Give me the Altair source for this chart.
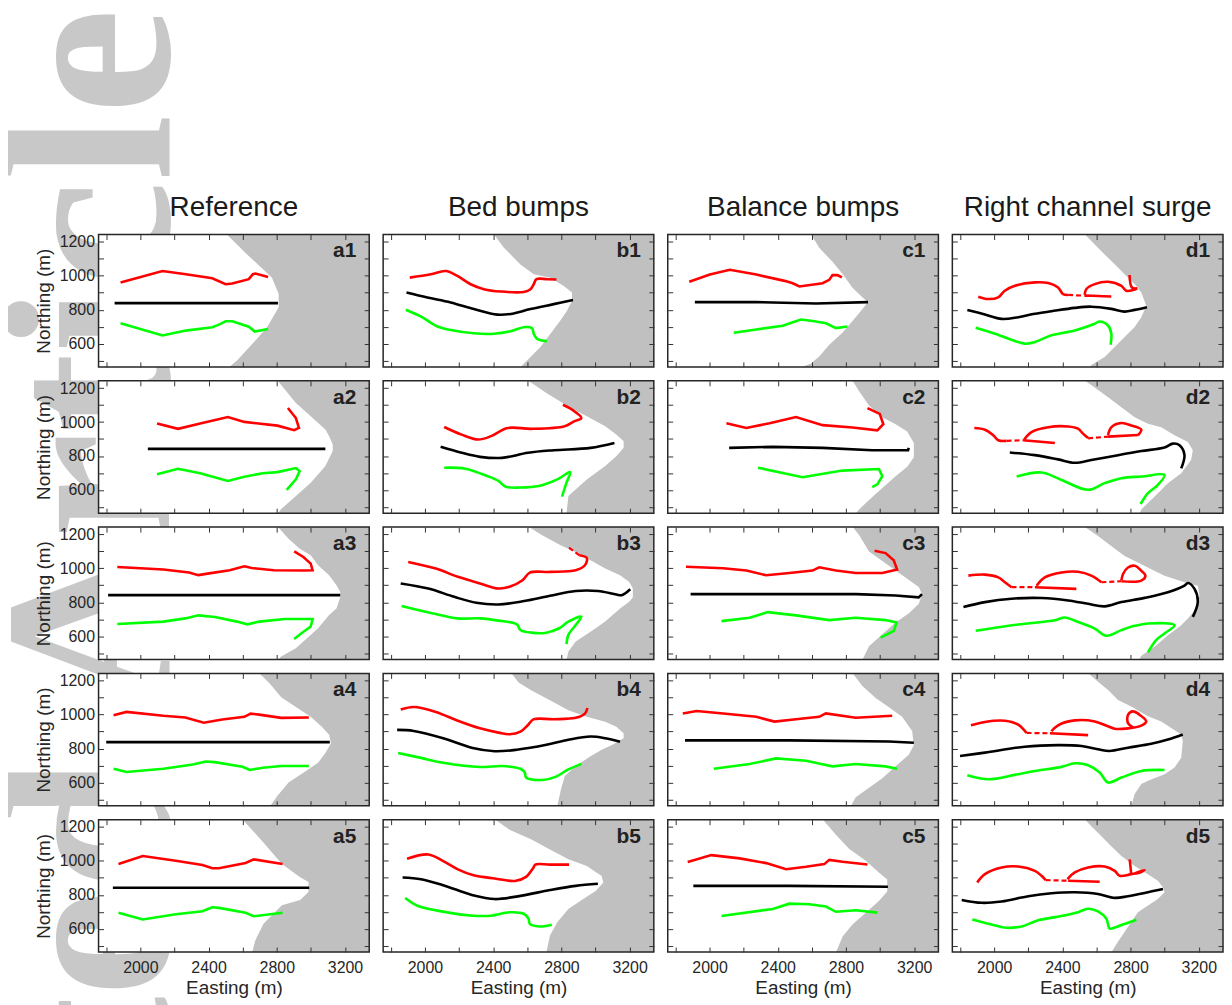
import altair as alt
import pandas as pd

# ---------------- axes / labels ----------------
X_MIN, X_MAX = 1755, 3342
Y_MIN, Y_MAX = 463, 1243
X_TICK_VALUES = [1800, 2000, 2200, 2400, 2600, 2800, 3000, 3200]
X_LABEL_VALUES = [2000, 2400, 2800, 3200]
Y_TICK_VALUES = [500, 600, 700, 800, 900, 1000, 1100, 1200]
Y_LABEL_VALUES = [600, 800, 1000, 1200]
COLUMN_TITLES = ["Reference", "Bed bumps", "Balance bumps", "Right channel surge"]
COLUMN_LETTERS = ["a", "b", "c", "d"]
WATERMARK = "ted Article"

# ---------------- panel data (Easting, Northing) ----------------
A1 = dict(
    front=[(2506, 1245), (2626, 1126), (2772, 989), (2811, 892), (2811, 814), (2743, 697), (2675, 619), (2568, 502), (2519, 460)],
    red=[[(1884, 960), (2130, 1028), (2267, 1009), (2422, 985), (2500, 950), (2539, 954), (2636, 980), (2660, 1009), (2675, 1013), (2749, 993)]],
    black=[[(1849, 839), (2807, 839)]],
    green=[[(1884, 720), (2130, 648), (2267, 677), (2422, 697), (2461, 712), (2500, 732), (2539, 732), (2636, 700), (2671, 671), (2749, 687)]],
)
A2 = dict(
    front=[(2804, 1245), (2912, 1112), (2999, 1034), (3085, 956), (3107, 917), (3128, 868), (3128, 830), (3085, 741), (2999, 643), (2912, 565), (2826, 487), (2804, 460)],
    red=[[(2098, 991), (2221, 960), (2351, 991), (2513, 1030), (2610, 1001), (2804, 979), (2902, 952), (2930, 966), (2912, 1024), (2865, 1083)]],
    black=[[(2044, 842), (3085, 842)]],
    green=[[(2098, 692), (2221, 725), (2351, 698), (2513, 653), (2610, 678), (2718, 698), (2804, 705), (2912, 729), (2934, 711), (2912, 662), (2858, 600)]],
)
A3 = dict(
    front=[(2804, 1247), (2869, 1175), (2934, 1116), (2999, 1077), (3042, 1018), (3107, 960), (3150, 901), (3172, 860), (3172, 830), (3150, 764), (3107, 725), (3042, 647), (2977, 588), (2912, 529), (2826, 481), (2804, 460)],
    red=[[(1865, 1008), (2135, 993), (2286, 975), (2340, 960), (2394, 969), (2524, 989), (2610, 1012), (2653, 1002), (2783, 989), (2956, 987), (3010, 989), (2999, 1028), (2956, 1067), (2902, 1100)]],
    black=[[(1811, 842), (3172, 842)]],
    green=[[(1865, 672), (2135, 686), (2264, 705), (2340, 723), (2437, 713), (2567, 686), (2627, 670), (2696, 686), (2848, 701), (3010, 701), (2999, 657), (2945, 617), (2902, 584)]],
)
A4 = dict(
    front=[(2696, 1245), (2761, 1181), (2826, 1103), (2912, 1045), (2999, 987), (3064, 929), (3107, 881), (3118, 832), (3085, 774), (3042, 716), (2956, 658), (2869, 600), (2804, 522), (2761, 460)],
    red=[[(1843, 997), (1919, 1016), (2135, 993), (2264, 983), (2372, 952), (2480, 971), (2610, 987), (2647, 1006), (2696, 1000), (2826, 981), (2988, 983)]],
    black=[[(1800, 838), (3111, 838)]],
    green=[[(1843, 681), (1919, 662), (2135, 681), (2308, 706), (2383, 724), (2437, 720), (2599, 693), (2642, 674), (2718, 687), (2826, 697), (2988, 697)]],
)
A5 = dict(
    front=[(2597, 1245), (2714, 1118), (2830, 982), (2937, 904), (2986, 875), (2986, 816), (2937, 770), (2830, 739), (2723, 631), (2675, 534), (2655, 460)],
    red=[[(1872, 982), (2014, 1029), (2208, 1001), (2364, 976), (2422, 957), (2461, 957), (2617, 988), (2665, 1009), (2834, 982)]],
    black=[[(1839, 842), (2990, 842)]],
    green=[[(1872, 694), (2014, 655), (2208, 686), (2364, 703), (2422, 727), (2461, 723), (2617, 694), (2665, 674), (2834, 694)]],
)
B1 = dict(
    front=[(2404, 1245), (2463, 1165), (2502, 1126), (2560, 1067), (2638, 1009), (2736, 989), (2814, 940), (2862, 901), (2862, 853), (2833, 794), (2794, 736), (2736, 658), (2677, 580), (2619, 521), (2580, 482), (2560, 460)],
    red=[[(1911, 989), (2034, 1009), (2122, 1028), (2190, 999), (2268, 950), (2346, 921), (2443, 907), (2580, 905), (2619, 921), (2638, 950), (2654, 980), (2716, 980), (2771, 978)]],
    black=[[(1892, 901), (2014, 872), (2151, 843), (2287, 804), (2424, 771), (2502, 775), (2619, 804), (2755, 833), (2868, 857)]],
    green=[[(1888, 800), (1975, 761), (2073, 701), (2151, 681), (2287, 661), (2404, 658), (2502, 673), (2580, 697), (2628, 691), (2638, 658), (2658, 628), (2716, 615)]],
)
B2 = dict(
    front=[(2604, 1245), (2712, 1171), (2841, 1092), (2949, 1034), (3057, 975), (3122, 926), (3165, 887), (3165, 848), (3122, 799), (3057, 741), (2949, 662), (2841, 565), (2830, 460)],
    red=[[(2113, 971), (2215, 926), (2312, 897), (2388, 917), (2485, 965), (2625, 960), (2820, 975), (2874, 1004), (2917, 1024), (2863, 1073), (2809, 1102)]],
    black=[[(2092, 854), (2215, 819), (2323, 795), (2452, 789), (2604, 819), (2755, 834), (2971, 848), (3111, 877)]],
    green=[[(2113, 731), (2236, 725), (2366, 682), (2431, 653), (2474, 619), (2560, 614), (2668, 623), (2776, 662), (2852, 705), (2830, 643), (2804, 561)]],
)
B3 = dict(
    front=[(2604, 1247), (2690, 1194), (2798, 1135), (2884, 1096), (2971, 1047), (3057, 999), (3144, 960), (3198, 920), (3219, 881), (3219, 830), (3198, 803), (3144, 764), (3057, 686), (2971, 627), (2884, 569), (2841, 510), (2830, 460)],
    red=[[(1902, 1038), (2064, 999), (2193, 950), (2323, 911), (2431, 881), (2496, 891), (2572, 930), (2615, 975), (2733, 979), (2884, 989), (2938, 1018), (2949, 1061), (2906, 1077)]],
    red_dash=[[(2906, 1077), (2830, 1132)]],
    black=[[(1858, 911), (2020, 881), (2172, 832), (2301, 797), (2431, 787), (2582, 807), (2733, 838), (2884, 866), (3014, 866), (3122, 846), (3154, 842), (3204, 877)]],
    green=[[(1863, 778), (2042, 735), (2193, 705), (2323, 705), (2431, 692), (2539, 670), (2560, 637), (2625, 621), (2712, 621), (2787, 647), (2841, 686), (2917, 715), (2884, 666), (2841, 608), (2830, 553)]],
)
B4 = dict(
    front=[(2506, 1245), (2549, 1190), (2625, 1142), (2733, 1084), (2841, 1026), (2949, 987), (3057, 958), (3122, 929), (3165, 890), (3165, 861), (3100, 822), (3036, 793), (2971, 755), (2884, 697), (2820, 639), (2798, 561), (2776, 460)],
    red=[[(1858, 1030), (1934, 1045), (2064, 1016), (2193, 964), (2323, 919), (2431, 894), (2496, 884), (2560, 900), (2604, 939), (2636, 972), (2755, 973), (2884, 981), (2938, 1006), (2953, 1039)]],
    black=[[(1837, 910), (1934, 904), (2107, 861), (2280, 803), (2409, 784), (2539, 793), (2712, 822), (2841, 852), (2971, 871), (3057, 861), (3144, 840)]],
    green=[[(1843, 774), (1977, 745), (2107, 716), (2323, 691), (2452, 697), (2560, 681), (2586, 658), (2593, 629), (2690, 615), (2766, 633), (2841, 677), (2917, 710)]],
)
B5 = dict(
    front=[(2409, 1245), (2496, 1184), (2625, 1126), (2733, 1067), (2841, 1009), (2949, 970), (3036, 911), (3046, 872), (3003, 824), (2928, 775), (2841, 716), (2776, 638), (2733, 560), (2712, 460)],
    red=[[(1895, 1013), (2020, 1038), (2107, 999), (2193, 950), (2280, 917), (2409, 896), (2528, 882), (2593, 906), (2636, 960), (2647, 978), (2733, 978), (2845, 978)]],
    black=[[(1869, 902), (1977, 892), (2107, 857), (2280, 798), (2409, 775), (2560, 794), (2733, 828), (2884, 853), (3014, 865)]],
    green=[[(1884, 781), (1956, 736), (2107, 701), (2280, 677), (2388, 677), (2496, 697), (2582, 687), (2608, 658), (2615, 629), (2680, 613), (2744, 623)]],
)
C1 = dict(
    front=[(2595, 1245), (2643, 1165), (2721, 1082), (2779, 1012), (2838, 929), (2896, 873), (2929, 845), (2896, 803), (2838, 733), (2779, 664), (2702, 594), (2643, 525), (2595, 483), (2536, 460)],
    red=[[(1881, 965), (2002, 1007), (2119, 1035), (2274, 1007), (2440, 970), (2488, 956), (2527, 937), (2663, 956), (2702, 976), (2721, 1004), (2750, 1004), (2776, 990)]],
    black=[[(1914, 845), (2274, 845), (2624, 837), (2929, 845)]],
    green=[[(2142, 664), (2274, 684), (2430, 706), (2488, 726), (2537, 742), (2605, 734), (2683, 720), (2741, 692), (2809, 701)]],
)
C2 = dict(
    front=[(2838, 1245), (2877, 1182), (2935, 1098), (3013, 1029), (3091, 987), (3159, 945), (3198, 876), (3198, 792), (3159, 736), (3091, 680), (3013, 611), (2935, 541), (2877, 485), (2857, 460)],
    red=[[(2099, 993), (2216, 965), (2352, 993), (2507, 1030), (2663, 982), (2838, 968), (2984, 951), (3019, 987), (2998, 1048), (2926, 1082)]],
    black=[[(2115, 848), (2371, 854), (2663, 848), (2954, 834), (3164, 834), (3168, 848)]],
    green=[[(2284, 731), (2546, 675), (2779, 714), (2993, 723), (3013, 681), (2984, 633), (2954, 616)]],
)
C3 = dict(
    front=[(2838, 1245), (2877, 1196), (2935, 1099), (3013, 1043), (3091, 987), (3169, 931), (3227, 890), (3246, 848), (3227, 792), (3169, 736), (3091, 681), (3013, 611), (2935, 541), (2896, 460)],
    red=[[(1862, 1009), (2080, 1001), (2216, 987), (2332, 959), (2468, 973), (2604, 987), (2643, 1006), (2741, 987), (2857, 973), (3013, 973), (3100, 993), (3080, 1048), (3032, 1090), (2968, 1104)]],
    black=[[(1889, 848), (2468, 848), (2857, 848), (3091, 840), (3226, 829), (3246, 848)]],
    green=[[(2070, 689), (2235, 709), (2342, 742), (2507, 723), (2702, 695), (2857, 709), (3032, 695), (3097, 681), (3081, 631), (3003, 592)]],
)
C4 = dict(
    front=[(2838, 1245), (2896, 1168), (2974, 1098), (3052, 1043), (3129, 987), (3188, 903), (3198, 820), (3168, 764), (3091, 695), (3013, 625), (2935, 569), (2857, 513), (2828, 460)],
    red=[[(1843, 1007), (1924, 1021), (2080, 1007), (2274, 987), (2381, 959), (2507, 973), (2643, 987), (2682, 1007), (2857, 982), (3071, 993)]],
    black=[[(1856, 848), (2468, 848), (3052, 842), (3198, 834)]],
    green=[[(2025, 681), (2235, 709), (2391, 742), (2566, 728), (2721, 695), (2857, 709), (3032, 695), (3100, 681)]],
)
C5 = dict(
    front=[(2663, 1245), (2741, 1154), (2818, 1071), (2916, 1001), (2993, 931), (3042, 890), (3042, 820), (2993, 764), (2916, 695), (2838, 625), (2780, 555), (2741, 460)],
    red=[[(1872, 993), (2011, 1034), (2177, 1015), (2332, 987), (2449, 951), (2566, 965), (2673, 981), (2702, 1006), (2780, 995), (2926, 979)]],
    black=[[(1905, 853), (2468, 853), (3046, 848)]],
    green=[[(2070, 675), (2371, 717), (2468, 748), (2585, 745), (2682, 731), (2741, 700), (2857, 709), (2984, 695)]],
)
D1 = dict(
    front=[(2531, 1245), (2590, 1184), (2648, 1126), (2707, 1068), (2765, 1009), (2824, 951), (2863, 902), (2892, 824), (2863, 756), (2824, 698), (2765, 639), (2707, 581), (2648, 522), (2570, 474), (2560, 460)],
    red=[
        [(1907, 877), (1966, 863), (2024, 873), (2063, 912), (2122, 941), (2239, 961), (2317, 957), (2375, 931), (2404, 892), (2434, 887)],
        [(2531, 883), (2610, 881), (2687, 878)],
        [(2531, 887), (2541, 922), (2590, 951), (2668, 965), (2746, 941), (2775, 912), (2814, 916), (2839, 926)],
        [(2794, 1005), (2808, 931), (2839, 926)],
    ],
    red_dash=[[(2434, 887), (2531, 883)]],
    black=[[(1843, 799), (1946, 772), (2044, 746), (2141, 756), (2239, 776), (2336, 791), (2473, 811), (2570, 818), (2687, 805), (2765, 789), (2824, 799), (2896, 815)]],
    green=[[(1892, 694), (2005, 659), (2180, 600), (2239, 610), (2336, 649), (2473, 678), (2590, 717), (2619, 731), (2668, 707), (2687, 659), (2683, 594)]],
)
D2 = dict(
    front=[(2531, 1245), (2590, 1204), (2668, 1146), (2746, 1087), (2824, 1029), (2902, 990), (2980, 970), (3058, 922), (3136, 883), (3165, 834), (3155, 776), (3097, 698), (3019, 640), (2941, 562), (2863, 484), (2853, 460)],
    red=[
        [(1884, 965), (1946, 955), (1995, 922), (2024, 893), (2073, 889)],
        [(2170, 893), (2356, 877)],
        [(2176, 897), (2219, 941), (2317, 970), (2434, 974), (2492, 961), (2521, 932), (2551, 906)],
        [(2668, 914), (2843, 924)],
        [(2668, 924), (2688, 970), (2746, 994), (2804, 980), (2863, 955), (2843, 922)],
    ],
    red_dash=[[(2073, 889), (2170, 893)], [(2551, 904), (2668, 914)]],
    black=[[(2092, 821), (2239, 805), (2375, 780), (2473, 760), (2570, 776), (2726, 805), (2863, 829), (2999, 850), (3048, 873), (3087, 863), (3116, 805), (3097, 727)]],
    green=[[(2132, 679), (2278, 703), (2395, 659), (2551, 601), (2648, 640), (2746, 669), (2863, 679), (2999, 688), (2960, 630), (2902, 581), (2859, 517)]],
)
D3 = dict(
    front=[(2531, 1245), (2609, 1190), (2687, 1132), (2765, 1073), (2843, 1034), (2921, 995), (2999, 957), (3058, 937), (3116, 918), (3194, 898), (3204, 840), (3185, 762), (3136, 704), (3097, 665), (3019, 606), (2941, 538), (2863, 485), (2850, 460)],
    red=[
        [(1849, 957), (1946, 963), (2024, 947), (2063, 918), (2102, 889)],
        [(2239, 889), (2482, 879)],
        [(2249, 898), (2297, 947), (2395, 976), (2492, 980), (2570, 957), (2629, 918)],
        [(2746, 924), (2863, 928), (2887, 957), (2863, 986), (2824, 1015), (2785, 1005), (2756, 967), (2746, 928)],
    ],
    red_dash=[[(2102, 889), (2239, 889)], [(2629, 918), (2746, 924)]],
    black=[[(1820, 772), (1946, 801), (2102, 821), (2278, 825), (2434, 811), (2551, 791), (2648, 776), (2746, 801), (2882, 826), (3019, 859), (3116, 898), (3136, 914), (3175, 879), (3194, 801), (3165, 714)]],
    green=[[(1892, 632), (2141, 669), (2356, 694), (2414, 710), (2492, 684), (2590, 645), (2658, 603), (2746, 636), (2824, 661), (2902, 675), (3058, 665), (2999, 616), (2950, 577), (2902, 505)]],
)
D4 = dict(
    front=[(2551, 1245), (2609, 1194), (2668, 1145), (2726, 1086), (2804, 1048), (2902, 990), (2980, 960), (3038, 921), (3097, 883), (3106, 844), (3097, 746), (3058, 688), (2999, 649), (2902, 610), (2863, 591), (2824, 532), (2804, 460)],
    red=[
        [(1864, 937), (1946, 957), (2063, 964), (2141, 941), (2190, 892)],
        [(2327, 890), (2551, 879)],
        [(2336, 902), (2375, 937), (2473, 966), (2590, 960), (2668, 931), (2707, 917), (2785, 919)],
        [(2785, 919), (2863, 935), (2892, 960), (2853, 999), (2814, 1019), (2785, 999), (2785, 950), (2814, 925)],
    ],
    red_dash=[[(2190, 892), (2327, 890)]],
    black=[[(1800, 756), (1946, 776), (2180, 811), (2375, 820), (2512, 815), (2609, 796), (2677, 786), (2785, 805), (2921, 828), (3019, 853), (3106, 883)]],
    green=[[(1843, 643), (1966, 619), (2122, 645), (2239, 668), (2395, 692), (2473, 713), (2551, 702), (2619, 659), (2668, 600), (2746, 629), (2863, 668), (2999, 674)]],
)
D5 = dict(
    front=[(2531, 1245), (2570, 1204), (2629, 1146), (2687, 1087), (2746, 1029), (2824, 970), (2902, 922), (2960, 883), (2990, 844), (2999, 815), (2960, 776), (2902, 737), (2843, 698), (2804, 640), (2765, 581), (2726, 523), (2687, 460)],
    red=[
        [(1901, 873), (1946, 922), (2044, 961), (2141, 967), (2239, 941), (2278, 912), (2302, 887)],
        [(2434, 883), (2619, 877)],
        [(2430, 893), (2473, 932), (2551, 961), (2648, 967), (2707, 941), (2736, 912), (2804, 922), (2863, 935), (2882, 947), (2824, 926)],
        [(2795, 1009), (2804, 922)],
    ],
    red_dash=[[(2302, 887), (2434, 883)]],
    black=[[(1810, 770), (1927, 753), (2044, 761), (2200, 792), (2336, 809), (2473, 815), (2609, 805), (2707, 782), (2785, 792), (2902, 815), (2990, 834)]],
    green=[[(1872, 655), (1966, 630), (2073, 606), (2161, 614), (2259, 650), (2395, 675), (2492, 698), (2551, 718), (2609, 702), (2658, 659), (2678, 601), (2717, 611), (2785, 636), (2834, 653)]],
)

GRID = [
    [A1, B1, C1, D1],
    [A2, B2, C2, D2],
    [A3, B3, C3, D3],
    [A4, B4, C4, D4],
    [A5, B5, C5, D5],
]

# ---------------- styling ----------------
W, H = 272, 133
FONT = "Liberation Sans"
TEXT_COLOR = "#262626"
GRAY = "#c0c0c0"

xs = alt.Scale(domain=[X_MIN, X_MAX], nice=False, zero=False)
ys = alt.Scale(domain=[Y_MIN, Y_MAX], nice=False, zero=False)


def seg_frame(segs):
    rows = []
    for s, seg in enumerate(segs):
        for i, (e, n) in enumerate(seg):
            rows.append({"seg": s, "i": i, "E": e, "N": n})
    return pd.DataFrame(rows, columns=["seg", "i", "E", "N"])


def tick_axis(orient, values):
    return alt.Axis(orient=orient, values=values, labels=False, domain=False, ticks=True,
                    tickSize=5, offset=-5, tickColor="#333333", tickWidth=1, grid=False,
                    title=None, zindex=2)


def x_label_axis():
    return alt.Axis(orient="bottom", values=X_LABEL_VALUES, format="d", ticks=False, tickSize=0,
                    domain=False, grid=False, labelFont=FONT, labelFontSize=16, labelColor=TEXT_COLOR,
                    labelPadding=8, labelFlush=False, labelOverlap=False, title="Easting (m)",
                    titleFont=FONT, titleFontSize=19, titleFontWeight="normal", titleColor=TEXT_COLOR,
                    titlePadding=3, zindex=2)


def y_label_axis():
    return alt.Axis(orient="left", values=Y_LABEL_VALUES, format="d", ticks=False, tickSize=0,
                    domain=False, grid=False, labelFont=FONT, labelFontSize=16, labelColor=TEXT_COLOR,
                    labelPadding=4, labelFlush=False, labelOverlap=False, title="Northing (m)",
                    titleFont=FONT, titleFontSize=19, titleFontWeight="normal", titleColor=TEXT_COLOR,
                    titlePadding=6, zindex=2)


def one(val):
    return pd.DataFrame({"t": [val]})


def line_layer(segs, color, width, xaxis, yaxis, interp="linear", dash=None):
    kw = dict(color=color, strokeWidth=width, clip=True, interpolate=interp)
    if dash is not None:
        kw["strokeDash"] = dash
    return alt.Chart(seg_frame(segs)).mark_line(**kw).encode(
        x=alt.X("E:Q", scale=xs, axis=xaxis),
        y=alt.Y("N:Q", scale=ys, axis=yaxis),
        detail="seg:N",
        order="i:Q",
    )


def panel(P, row, col):
    interp = "catmull-rom" if col in (1, 3) else "linear"
    layers = []
    if row == 0 and col == 0:
        layers.append(
            alt.Chart(one(WATERMARK)).mark_text(
                font="Liberation Serif", fontSize=240, fontWeight="bold", angle=270, align="right",
                baseline="alphabetic", color="#c8c8c8"
            ).encode(text="t:N", x=alt.value(70.7), y=alt.value(-227.3))
        )
        layers.append(
            alt.Chart(one(0)).mark_rect(color="white").encode(
                x=alt.value(0), x2=alt.value(W), y=alt.value(0), y2=alt.value(H))
        )
    front = pd.DataFrame(P["front"], columns=["E", "N"])
    layers.append(
        alt.Chart(front).mark_area(orient="horizontal", color=GRAY, clip=True).encode(
            y=alt.Y("N:Q", scale=ys, axis=y_label_axis() if col == 0 else None),
            x=alt.X("E:Q", scale=xs, axis=x_label_axis() if row == 4 else None, stack=False),
            x2=alt.datum(X_MAX),
        )
    )
    layers.append(line_layer(P["red"], "#ff0000", 2.6,
                             tick_axis("bottom", X_TICK_VALUES), tick_axis("left", Y_TICK_VALUES), interp))
    layers.append(line_layer(P["black"], "#000000", 2.6,
                             tick_axis("top", X_TICK_VALUES), tick_axis("right", Y_TICK_VALUES), interp))
    layers.append(line_layer(P["green"], "#00ff00", 2.6, None, None, interp))
    if "red_dash" in P:
        layers.append(line_layer(P["red_dash"], "#ff0000", 2.2, None, None, "linear", dash=[5, 3]))
    layers.append(
        alt.Chart(one(0)).mark_rect(filled=False, stroke="#262626", strokeWidth=1.5).encode(
            x=alt.value(0), x2=alt.value(W), y=alt.value(0), y2=alt.value(H))
    )
    layers.append(
        alt.Chart(one(f"{COLUMN_LETTERS[col]}{row + 1}")).mark_text(
            align="right", baseline="alphabetic", font=FONT, fontSize=21, fontWeight="bold",
            color="#222222"
        ).encode(text="t:N", x=alt.value(W - 13), y=alt.value(23))
    )
    if row == 0:
        layers.append(
            alt.Chart(one(COLUMN_TITLES[col])).mark_text(
                align="center", baseline="alphabetic", font=FONT, fontSize=28, color="#1a1a1a"
            ).encode(text="t:N", x=alt.value(W / 2), y=alt.value(-19))
        )
    return alt.layer(*layers).resolve_axis(x="independent", y="independent").properties(
        width=W, height=H)


charts = [panel(GRID[r][c], r, c) for r in range(5) for c in range(4)]

chart = alt.concat(*charts, columns=4, spacing=14, bounds="flush").properties(
    padding={"left": -31, "top": -3, "right": 0, "bottom": 0}
).configure_view(fill="white", strokeWidth=0)

chart.save("out.html", embed_options={"renderer": "svg", "actions": False})
